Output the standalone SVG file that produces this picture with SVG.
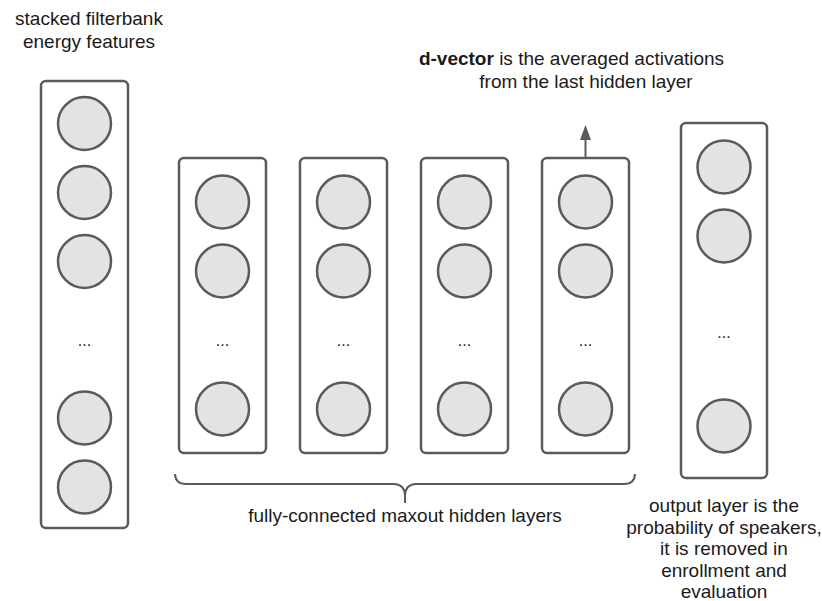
<svg xmlns="http://www.w3.org/2000/svg" width="822" height="601" viewBox="0 0 822 601">
  <defs>
    <style>
      .layer { fill: #ffffff; stroke: #5a5a5a; stroke-width: 2.5; }
      .unit { fill: #e3e3e3; stroke: #5a5a5a; stroke-width: 2.5; }
      .lbl { font-family: "Liberation Sans", Arial, sans-serif; font-size: 19px; fill: #1a1a1a; }
      .mid { text-anchor: middle; }
      .dots { font-family: "Liberation Sans", Arial, sans-serif; font-size: 16px; fill: #1a1a1a; text-anchor: middle; }
      .wire { fill: none; stroke: #5a5a5a; stroke-width: 2; }
    </style>
  </defs>
  <rect width="822" height="601" fill="#ffffff"/>

  <!-- input features column -->
  <g id="input-layer">
    <rect class="layer" x="41" y="81" width="87" height="447" rx="5"/>
    <circle class="unit" cx="84.5" cy="123.5" r="26.5"/>
    <circle class="unit" cx="84.5" cy="192.5" r="26.5"/>
    <circle class="unit" cx="84.5" cy="261.5" r="26.5"/>
    <text class="dots" x="84.5" y="346">...</text>
    <circle class="unit" cx="84.5" cy="418" r="26.5"/>
    <circle class="unit" cx="84.5" cy="487" r="26.5"/>
  </g>

  <!-- hidden layers -->
  <g id="hidden-1">
    <rect class="layer" x="179" y="158" width="87" height="295" rx="5"/>
    <circle class="unit" cx="222.5" cy="202" r="26.5"/>
    <circle class="unit" cx="222.5" cy="271" r="26.5"/>
    <text class="dots" x="222.5" y="346">...</text>
    <circle class="unit" cx="222.5" cy="409" r="26.5"/>
  </g>
  <g id="hidden-2">
    <rect class="layer" x="300" y="158" width="87" height="295" rx="5"/>
    <circle class="unit" cx="343.5" cy="202" r="26.5"/>
    <circle class="unit" cx="343.5" cy="271" r="26.5"/>
    <text class="dots" x="343.5" y="346">...</text>
    <circle class="unit" cx="343.5" cy="409" r="26.5"/>
  </g>
  <g id="hidden-3">
    <rect class="layer" x="421" y="158" width="87" height="295" rx="5"/>
    <circle class="unit" cx="464.5" cy="202" r="26.5"/>
    <circle class="unit" cx="464.5" cy="271" r="26.5"/>
    <text class="dots" x="464.5" y="346">...</text>
    <circle class="unit" cx="464.5" cy="409" r="26.5"/>
  </g>
  <g id="hidden-4">
    <rect class="layer" x="542" y="158" width="87" height="295" rx="5"/>
    <circle class="unit" cx="585.5" cy="202" r="26.5"/>
    <circle class="unit" cx="585.5" cy="271" r="26.5"/>
    <text class="dots" x="585.5" y="346">...</text>
    <circle class="unit" cx="585.5" cy="409" r="26.5"/>
  </g>

  <!-- output layer -->
  <g id="output-layer">
    <rect class="layer" x="681" y="123" width="86" height="355" rx="5"/>
    <circle class="unit" cx="724" cy="167" r="26.5"/>
    <circle class="unit" cx="724" cy="236" r="26.5"/>
    <text class="dots" x="724" y="338">...</text>
    <circle class="unit" cx="724" cy="426" r="26.5"/>
  </g>

  <!-- connectors -->
  <g id="connectors">
    <line class="wire" x1="585.5" y1="157" x2="585.5" y2="138"/>
    <polygon points="585.5,125 591,140 580,140" fill="#5a5a5a"/>
    <path class="wire" d="M175,474 Q175.5,484 186,484 L394,484 Q404.5,484.5 405,495 L405,503 M405,495 Q405.5,484.5 416,484 L624,484 Q634.5,484 635,474"/>
  </g>

  <!-- labels -->
  <g id="labels">
    <text class="lbl mid" x="89" y="25">stacked filterbank</text>
    <text class="lbl mid" x="89" y="48">energy features</text>
    <text class="lbl mid" x="571.5" y="65"><tspan font-weight="bold">d-vector</tspan> is the averaged activations</text>
    <text class="lbl mid" x="586" y="88">from the last hidden layer</text>
    <text class="lbl mid" x="405" y="522">fully-connected maxout hidden layers</text>
    <text class="lbl mid" x="724" y="512">output layer is the</text>
    <text class="lbl mid" x="724" y="533.5">probability of speakers,</text>
    <text class="lbl mid" x="724" y="555">it is removed in</text>
    <text class="lbl mid" x="724" y="576.5">enrollment and</text>
    <text class="lbl mid" x="724" y="598">evaluation</text>
  </g>
</svg>
